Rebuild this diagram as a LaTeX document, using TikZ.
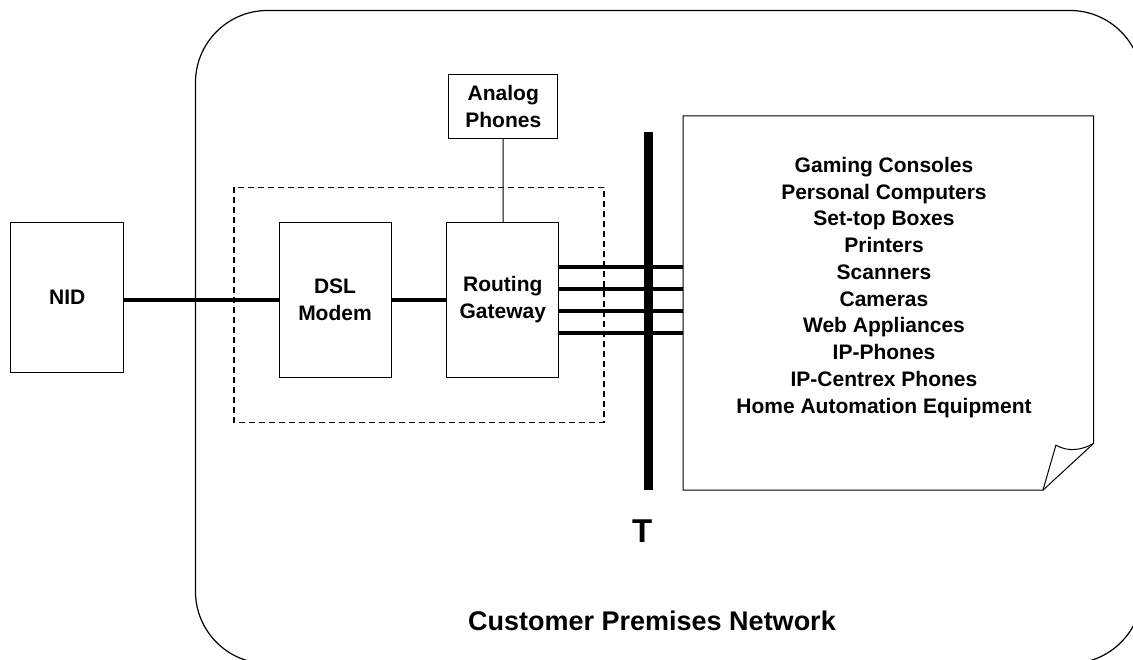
\documentclass[tikz,border=0pt]{standalone}
\usepackage{fontspec}
\setmainfont{Liberation Sans}
\begin{document}
\begin{tikzpicture}[x=1pt,y=-1pt,
    box/.style={draw, line width=1pt, inner sep=0pt, align=center,
        minimum width=112pt, minimum height=155.5pt,
        font=\fontsize{21}{27}\selectfont\bfseries},
    thinline/.style={line width=1pt},
    thickline/.style={line width=4pt},
    dashbox/.style={line width=1.6pt, dash pattern=on 6pt off 4pt}]

    \useasboundingbox (0,0) rectangle (1133,659);
    \clip (0,0) rectangle (1133,659);

    % premises outline
    \draw[line width=1.2pt, rounded corners=72pt] (195.5,10.5) rectangle (1142,663.5);
    \draw[dashbox] (234,187.3) rectangle (604,422.3);

    % boxes
    \node[box, minimum width=113pt, minimum height=150pt] (nid) at (67.2,297) {NID};
    \node[box] (dsl) at (335,300) {DSL\\Modem};
    \node[box] (rg) at (502.8,300) {Routing\\Gateway};
    \node[box, minimum width=108.7pt, minimum height=63.6pt] (ap) at (503.3,106.5) {Analog\\Phones};

    % T bar
    \node[fill, inner sep=0pt, minimum width=8.7pt, minimum height=358.3pt] (bar) at (648.3,310.8) {};
    \node[font=\fontsize{33}{33}\selectfont\bfseries] (tlabel) at (642.3,530.7) {T};

    % device list
    \node[inner sep=0pt, minimum width=410pt, minimum height=374pt] (doc) at (888.3,303) {};
    \draw[thinline] (doc.north west) -- (doc.north east) -- ([yshift=46.7pt]doc.south east)
        -- ([xshift=-50.6pt]doc.south east) -- (doc.south west) -- cycle;
    \draw[thinline] ([xshift=-50.6pt]doc.south east) -- ([xshift=-37.6pt,yshift=45pt]doc.south east)
        .. controls ([xshift=-25pt,yshift=38pt]doc.south east) and ([xshift=-12pt,yshift=40pt]doc.south east)
        .. ([yshift=46.7pt]doc.south east);
    \node[align=center, inner sep=0pt, font=\fontsize{21}{26.75}\selectfont\bfseries] (devices) at (884,287.4)
        {Gaming Consoles\\Personal Computers\\Set-top Boxes\\Printers\\Scanners\\Cameras\\Web Appliances\\IP-Phones\\IP-Centrex Phones\\Home Automation Equipment};

    \node[font=\fontsize{27}{27}\selectfont\bfseries] (cpn) at (652,621) {Customer Premises Network};

    % links
    \draw[thickline] (nid.east |- dsl.west) -- (dsl.west);
    \draw[thickline] (dsl) -- (rg);
    \draw[thinline] (ap) -- (rg);
    \foreach \dy in {33.3,11.1,-11.1,-33.3} {
        \draw[thickline] ([yshift=\dy]rg.east) -- ([yshift=\dy]rg.east -| doc.west);
    }

\end{tikzpicture}
\end{document}
